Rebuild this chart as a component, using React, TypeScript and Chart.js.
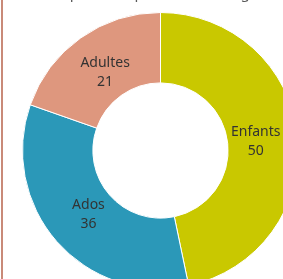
import React, { useEffect, useRef } from "react";
import { Chart, registerables } from "chart.js";

Chart.register(...registerables);

const categories: string[] = ["Enfants", "Ados", "Adultes"];
const values: number[] = [50, 36, 21];
const colors: string[] = ["#c9c800", "#2b98b8", "#de977e"];
const titleText = "Répartition par tranche d'âge";

const labelPlugin = {
  id: "sliceLabels",
  afterDatasetsDraw(chart: any) {
    const ctx = chart.ctx;
    const meta = chart.getDatasetMeta(0);
    ctx.save();
    ctx.font = "14px 'Noto Sans'";
    ctx.fillStyle = "#333333";
    ctx.textAlign = "center";
    ctx.textBaseline = "middle";
    meta.data.forEach((arc: any, i: number) => {
      const p = arc.getProps(["x", "y", "startAngle", "endAngle", "innerRadius", "outerRadius"], true);
      const mid = (p.startAngle + p.endAngle) / 2;
      const r = p.innerRadius + (p.outerRadius - p.innerRadius) * 0.4;
      const cx = p.x + Math.cos(mid) * r;
      const cy = p.y + Math.sin(mid) * r;
      ctx.fillText(categories[i], cx, cy - 9);
      ctx.fillText(String(values[i]), cx, cy + 10);
    });
    ctx.restore();
  },
};

export default function App() {
  const canvasRef = useRef<HTMLCanvasElement | null>(null);

  useEffect(() => {
    document.documentElement.style.overflow = "hidden";
    document.body.style.overflow = "hidden";
    const chart = new Chart(canvasRef.current as HTMLCanvasElement, {
      type: "doughnut",
      data: {
        labels: categories,
        datasets: [
          {
            data: values,
            backgroundColor: colors,
            borderColor: "#ffffff",
            borderWidth: 1,
          },
        ],
      },
      options: {
        animation: false,
        responsive: true,
        maintainAspectRatio: false,
        cutout: "49%",
        layout: { padding: 0 },
        plugins: {
          legend: { display: false },
          tooltip: { enabled: false },
          title: { display: false },
        },
      },
      plugins: [labelPlugin],
    });
    return () => chart.destroy();
  }, []);

  return (
    <>
      <div
        style={{
          position: "fixed",
          left: 1,
          top: 0,
          width: 2,
          height: 279,
          background: "#c98a78",
        }}
      />
      <div
        style={{
          position: "fixed",
          left: 52,
          top: -15,
          fontFamily: "'Noto Sans'",
          fontSize: 15,
          lineHeight: "15px",
          color: "#595959",
          whiteSpace: "nowrap",
        }}
      >
        {titleText}
      </div>
      <div
        style={{
          position: "fixed",
          left: 22,
          top: 12,
          width: 277,
          height: 277,
        }}
      >
        <canvas ref={canvasRef} />
      </div>
    </>
  );
}
